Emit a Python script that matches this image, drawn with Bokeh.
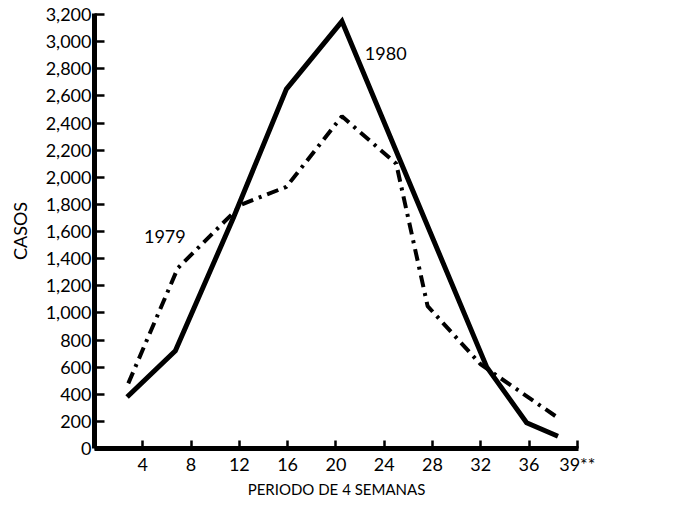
from bokeh.plotting import figure
from bokeh.models import FixedTicker, NumeralTickFormatter, Label
from bokeh.embed import file_html
from bokeh.resources import INLINE

# Data
weeks_1980 = [2.7, 6.7, 11.5, 15.9, 20.5, 25.2, 32.5, 35.8, 38.4]
cases_1980 = [380, 720, 1700, 2650, 3150, 2150, 600, 190, 90]

weeks_1979 = [2.8, 6.9, 12.2, 15.9, 20.5, 25.0, 27.6, 32.0, 38.5]
cases_1979 = [480, 1330, 1800, 1930, 2450, 2100, 1050, 620, 220]

x_ticks = [4, 8, 12, 16, 20, 24, 28, 32, 36, 40]
x_tick_labels = ["4", "8", "12", "16", "20", "24", "28", "32", "36", "39**"]
y_ticks = list(range(0, 3201, 200))

FONT = "Lato"

p = figure(frame_width=484, frame_height=435,
           x_range=(0, 40.1), y_range=(0, 3208),
           output_backend="svg", toolbar_location=None,
           min_border_left=94, min_border_top=13,
           min_border_right=70, min_border_bottom=40,
           background_fill_color="white", border_fill_color="white")
p.outline_line_color = None
p.grid.visible = False

p.xaxis.ticker = FixedTicker(ticks=x_ticks)
p.xaxis.major_label_overrides = {t: l for t, l in zip(x_ticks, x_tick_labels)}
p.yaxis.ticker = FixedTicker(ticks=y_ticks)
p.yaxis.formatter = NumeralTickFormatter(format="0,0")

for ax in (p.xaxis, p.yaxis):
    ax.axis_line_width = 5
    ax.axis_line_color = "black"
    ax.major_tick_out = 0
    ax.major_tick_line_width = 2.5
    ax.major_tick_line_color = "black"
    ax.minor_tick_line_color = None
    ax.major_label_text_font = FONT
    ax.major_label_text_font_size = "18px"
    ax.major_label_text_color = "black"
    ax.axis_label_text_font = FONT
    ax.axis_label_text_font_style = "normal"
    ax.axis_label_text_color = "black"

p.yaxis.axis_label_text_font_size = "18px"
p.xaxis.axis_label_text_font_size = "15px"
p.yaxis.major_tick_in = 10
p.xaxis.major_tick_in = 8
p.yaxis.major_label_standoff = 3
p.xaxis.major_label_standoff = 4
p.yaxis.axis_label = "CASOS"
p.xaxis.axis_label = "PERIODO DE 4 SEMANAS"
p.yaxis.axis_label_standoff = 12
p.xaxis.axis_label_standoff = 2

p.line(weeks_1979, cases_1979, line_width=4, line_color="black",
       line_dash="12 6 3 6")
p.line(weeks_1980, cases_1980, line_width=5, line_color="black",
       line_join="miter")

p.add_layout(Label(x=4.1, y=1610, text="1979", text_baseline="top",
                   text_font=FONT, text_font_size="18px", text_color="black"))
p.add_layout(Label(x=22.4, y=2960, text="1980", text_baseline="top",
                   text_font=FONT, text_font_size="18px", text_color="black"))

open("out.html", "w").write(file_html(p, INLINE))
